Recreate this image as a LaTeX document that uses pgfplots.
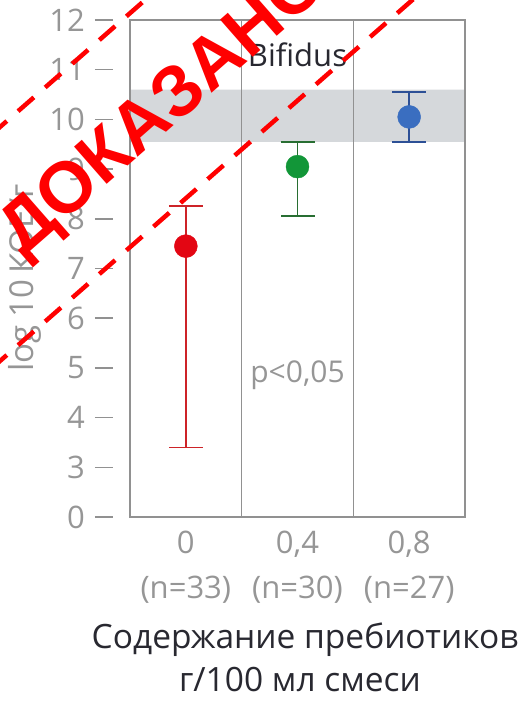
\documentclass[border=0pt]{standalone}
\usepackage{fontspec}
\setmainfont{Open Sans}
\newfontfamily\stampfont{Liberation Sans}
\usepackage{pgfplots}
\pgfplotsset{compat=1.18}
\definecolor{axiscol}{RGB}{145,145,145}
\definecolor{tickcol}{RGB}{150,150,150}
\definecolor{bandcol}{RGB}{213,216,219}
\definecolor{redpt}{RGB}{227,6,19}
\definecolor{redbar}{RGB}{205,35,40}
\definecolor{greenpt}{RGB}{18,150,56}
\definecolor{greenbar}{RGB}{40,110,50}
\definecolor{bluept}{RGB}{58,110,192}
\definecolor{bluebar}{RGB}{45,80,150}
\definecolor{darktext}{RGB}{40,40,48}
\begin{document}
\begin{tikzpicture}
\begin{axis}[
  at={(130bp,184bp)}, anchor=south west,
  scale only axis, width=335bp, height=497bp,
  xmin=-0.5, xmax=2.5, ymin=2, ymax=12,
  axis on top,
  axis line style={axiscol, line width=1.5bp},
  /pgf/number format/assume math mode=true,
  ytick={2,3,4,5,6,7,8,9,10,11,12},
  yticklabels={0,3,4,5,6,7,8,9,10,11,12},
  ytick pos=left,
  tick align=inside,
  major tick length=18bp,
  ytick style={xshift=-35bp, axiscol, line width=1.5bp},
  yticklabel style={inner sep=0pt, xshift=-45bp, text=tickcol, font=\fontsize{31bp}{36bp}\selectfont},
  xtick={0,1,2},
  xticklabels={{0\\(n=33)},{0,4\\(n=30)},{0,8\\(n=27)}},
  xtick style={draw=none},
  xticklabel style={align=center, inner sep=0pt, yshift=-14bp, text=tickcol, font=\fontsize{31bp}{45bp}\selectfont},
]
\addplot[fill=bandcol, draw=none] coordinates {(-0.5,9.55) (2.5,9.55) (2.5,10.6) (-0.5,10.6) (-0.5,9.55)};
\draw[axiscol, line width=1.5bp] (axis cs:0.5,2) -- (axis cs:0.5,12);
\draw[axiscol, line width=1.5bp] (axis cs:1.5,2) -- (axis cs:1.5,12);
\draw[axiscol, line width=1.5bp] (axis cs:-0.5,12) -- ++(-35bp,0bp);
\draw[axiscol, line width=1.5bp] (axis cs:-0.5,2) -- ++(-35bp,0bp);
\addplot[redpt, only marks, mark=*, mark size=11.5bp, mark options={fill=redpt, draw=redpt},
  error bars/.cd, y dir=both, y explicit,
  error bar style={redbar, line width=1.8bp},
  error mark options={rotate=90, redbar, line width=1.8bp, mark size=17bp}]
  coordinates {(0,7.45) +=(0,0.8) -=(0,4.05)};
\addplot[greenpt, only marks, mark=*, mark size=11.5bp, mark options={fill=greenpt, draw=greenpt},
  error bars/.cd, y dir=both, y explicit,
  error bar style={greenbar, line width=1.8bp},
  error mark options={rotate=90, greenbar, line width=1.8bp, mark size=17bp}]
  coordinates {(1,9.05) +=(0,0.5) -=(0,1.0)};
\addplot[bluept, only marks, mark=*, mark size=11.5bp, mark options={fill=bluept, draw=bluept},
  error bars/.cd, y dir=both, y explicit,
  error bar style={bluebar, line width=1.8bp},
  error mark options={rotate=90, bluebar, line width=1.8bp, mark size=17bp}]
  coordinates {(2,10.05) +=(0,0.5) -=(0,0.5)};
\node[text=darktext, font=\fontsize{31bp}{36bp}\selectfont] at (axis cs:1,11.3) {Bifidus};
\node[text=tickcol, font=\fontsize{30bp}{36bp}\selectfont] at (axis cs:1,4.86) {p<0,05};
\end{axis}
\node[rotate=90, text=tickcol, font=\fontsize{33bp}{36bp}\selectfont] at (25bp,423bp) {log 10\,КОЕ/г};
\node[text=darktext, font=\fontsize{33.5bp}{40bp}\selectfont] at (305bp,61bp) {Содержание пребиотиков};
\node[text=darktext, font=\fontsize{33.5bp}{40bp}\selectfont] at (300bp,21bp) {г/100 мл смеси};
% stamp
\draw[red, line width=4.5bp, dash pattern=on 21bp off 15bp] (0bp,574bp) ++(221.2:120bp) -- ++(41.2:600bp);
\draw[red, line width=4.5bp, dash pattern=on 21bp off 15bp] (0bp,340bp) ++(221.2:120bp) -- ++(41.2:800bp);
\node[rotate=41.2, text=red, inner sep=0pt, font=\stampfont\bfseries\fontsize{72bp}{72bp}\selectfont] at (165bp,591bp) {ДОКАЗАНО};
\pgfresetboundingbox
\useasboundingbox (0,0) rectangle (525bp,701bp);
\end{tikzpicture}
\end{document}
